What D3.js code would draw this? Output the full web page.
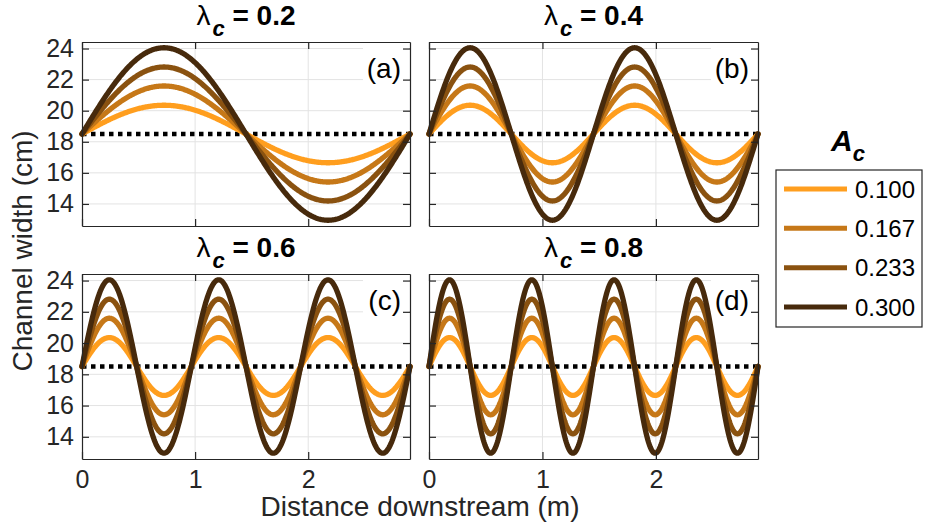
<!DOCTYPE html>
<html>
<head>
<meta charset="utf-8">
<script src="https://cdn.jsdelivr.net/npm/d3@7"></script>
<style>
  html, body { margin: 0; padding: 0; background: #fff; }
  svg { display: block; font-family: "Liberation Sans", Arial, Helvetica, sans-serif; }
</style>
</head>
<body>
<svg id="chart" width="925" height="523"></svg>
<script>
// ---- Data ----
const panelLabels   = ["(a)", "(b)", "(c)", "(d)"];
const lambdaValues  = [0.2, 0.4, 0.6, 0.8];        // λc per panel
const wavesPerReach = [1, 2, 3, 4];                // full meander wavelengths across the reach
const ampValues     = [0.100, 0.167, 0.233, 0.300]; // A_c
const ampLabels     = ["0.100", "0.167", "0.233", "0.300"];
const ampColors     = ["#ff9e1e", "#c67818", "#8a5210", "#472a0c"];
const meanWidth     = 18.5;   // cm (dotted line)
const reachLength   = 2.9;    // m
const xTicks        = [0, 1, 2];
const yTicks        = [14, 16, 18, 20, 22, 24];
const yDomain       = [12.58, 24.42];

// ---- Layout ----
const svg = d3.select("#chart");
const boxes = [
  {x0: 82,  x1: 410, y0: 42,  y1: 226},
  {x0: 429, x1: 758, y0: 42,  y1: 226},
  {x0: 82,  x1: 410, y0: 274, y1: 459},
  {x0: 429, x1: 758, y0: 274, y1: 459}
];
const axisColor = "#262626";
const gridColor = "#e3e3e3";

boxes.forEach((b, i) => {
  const x = d3.scaleLinear().domain([0, reachLength]).range([b.x0, b.x1]);
  const y = d3.scaleLinear().domain(yDomain).range([b.y1, b.y0]);
  const g = svg.append("g");

  // grid
  g.append("g").selectAll("line").data(xTicks.filter(t => t > 0)).join("line")
    .attr("x1", d => x(d)).attr("x2", d => x(d)).attr("y1", b.y0).attr("y2", b.y1)
    .attr("stroke", gridColor).attr("stroke-width", 1);
  g.append("g").selectAll("line").data(yTicks).join("line")
    .attr("x1", b.x0).attr("x2", b.x1).attr("y1", d => y(d)).attr("y2", d => y(d))
    .attr("stroke", gridColor).attr("stroke-width", 1);

  // panel label background (hides grid)
  g.append("rect").attr("x", b.x1 - 47).attr("y", b.y0 + 1).attr("width", 46).attr("height", 44)
    .attr("fill", "#fff");

  // mean width dotted line
  g.append("line")
    .attr("x1", x(0)).attr("x2", x(reachLength))
    .attr("y1", y(meanWidth)).attr("y2", y(meanWidth))
    .attr("stroke", "#000").attr("stroke-width", 4.5).attr("stroke-dasharray", "4.5 4.5");

  // curves
  const n = wavesPerReach[i];
  const xs = d3.range(0, 401).map(k => k / 400 * reachLength);
  const line = d3.line().x(d => x(d[0])).y(d => y(d[1]));
  ampValues.forEach((A, j) => {
    const pts = xs.map(xv => [xv, meanWidth * (1 + A * Math.sin(2 * Math.PI * n * xv / reachLength))]);
    g.append("path").datum(pts)
      .attr("d", line)
      .attr("fill", "none")
      .attr("stroke", ampColors[j])
      .attr("stroke-width", 5.3)
      .attr("stroke-linejoin", "round")
      .attr("stroke-linecap", "round");
  });

  // axes (box with inward ticks on all sides)
  const tickLen = 7;
  const axBottom = d3.axisBottom(x).tickValues(xTicks).tickSize(-tickLen).tickSizeOuter(0)
    .tickFormat(i >= 2 ? d3.format("d") : () => "");
  const axTop = d3.axisTop(x).tickValues(xTicks).tickSize(-tickLen).tickSizeOuter(0).tickFormat(() => "");
  const axLeft = d3.axisLeft(y).tickValues(yTicks).tickSize(-tickLen).tickSizeOuter(0)
    .tickFormat(i % 2 === 0 ? d3.format("d") : () => "");
  const axRight = d3.axisRight(y).tickValues(yTicks).tickSize(-tickLen).tickSizeOuter(0).tickFormat(() => "");

  const styleAxis = sel => {
    sel.selectAll("path").attr("stroke", axisColor).attr("stroke-width", 1.2);
    sel.selectAll("line").attr("stroke", axisColor).attr("stroke-width", 1.2);
    sel.selectAll("text").attr("fill", axisColor).style("font-size", "25px")
      .style("font-family", "'Liberation Sans', Arial, sans-serif");
  };
  g.append("g").attr("transform", `translate(0,${b.y1})`).call(axBottom).call(styleAxis)
    .selectAll("text").attr("dy", "0.71em").attr("y", 11);
  g.append("g").attr("transform", `translate(0,${b.y0})`).call(axTop).call(styleAxis);
  g.append("g").attr("transform", `translate(${b.x0},0)`).call(axLeft).call(styleAxis)
    .selectAll("text").attr("x", -8);
  g.append("g").attr("transform", `translate(${b.x1},0)`).call(axRight).call(styleAxis);

  // panel label
  g.append("text").attr("x", b.x1 - 9).attr("y", b.y0 + 36)
    .attr("text-anchor", "end").attr("fill", "#000")
    .style("font-size", "28px").text(panelLabels[i]);

  // title: λ_c = value
  const t = svg.append("text")
    .attr("x", (b.x0 + b.x1) / 2).attr("y", b.y0 - 17)
    .attr("text-anchor", "middle").attr("fill", "#000").style("font-size", "28px");
  t.append("tspan").text("λ");
  t.append("tspan").attr("dy", 11).attr("dx", 2).style("font-weight", "bold").style("font-style", "italic")
    .style("font-size", "22px").text("c");
  t.append("tspan").attr("dy", -11).style("font-weight", "bold").text(" = " + lambdaValues[i].toFixed(1));
});

// axis titles
svg.append("text").attr("x", 420).attr("y", 516).attr("text-anchor", "middle")
  .attr("fill", axisColor).style("font-size", "28px").text("Distance downstream (m)");
svg.append("text").attr("transform", "translate(32,251) rotate(-90)").attr("text-anchor", "middle")
  .attr("fill", axisColor).style("font-size", "28px").text("Channel width (cm)");

// legend
const leg = svg.append("g");
leg.append("rect").attr("x", 776).attr("y", 170).attr("width", 146).attr("height", 157)
  .attr("fill", "#fff").attr("stroke", axisColor).attr("stroke-width", 1.2);
const legTitle = leg.append("text").attr("x", 848).attr("y", 151).attr("text-anchor", "middle")
  .attr("fill", "#000").style("font-weight", "bold").style("font-style", "italic");
legTitle.append("tspan").style("font-size", "30px").text("A");
legTitle.append("tspan").attr("dy", 10).style("font-size", "22px").text("c");

const legY = d3.scalePoint().domain(ampLabels).range([189, 307]);
ampLabels.forEach((lab, j) => {
  leg.append("line").attr("x1", 784).attr("x2", 847)
    .attr("y1", legY(lab)).attr("y2", legY(lab))
    .attr("stroke", ampColors[j]).attr("stroke-width", 5);
  leg.append("text").attr("x", 855).attr("y", legY(lab)).attr("dy", "0.36em")
    .attr("fill", "#000").style("font-size", "24px").text(lab);
});
</script>
</body>
</html>
